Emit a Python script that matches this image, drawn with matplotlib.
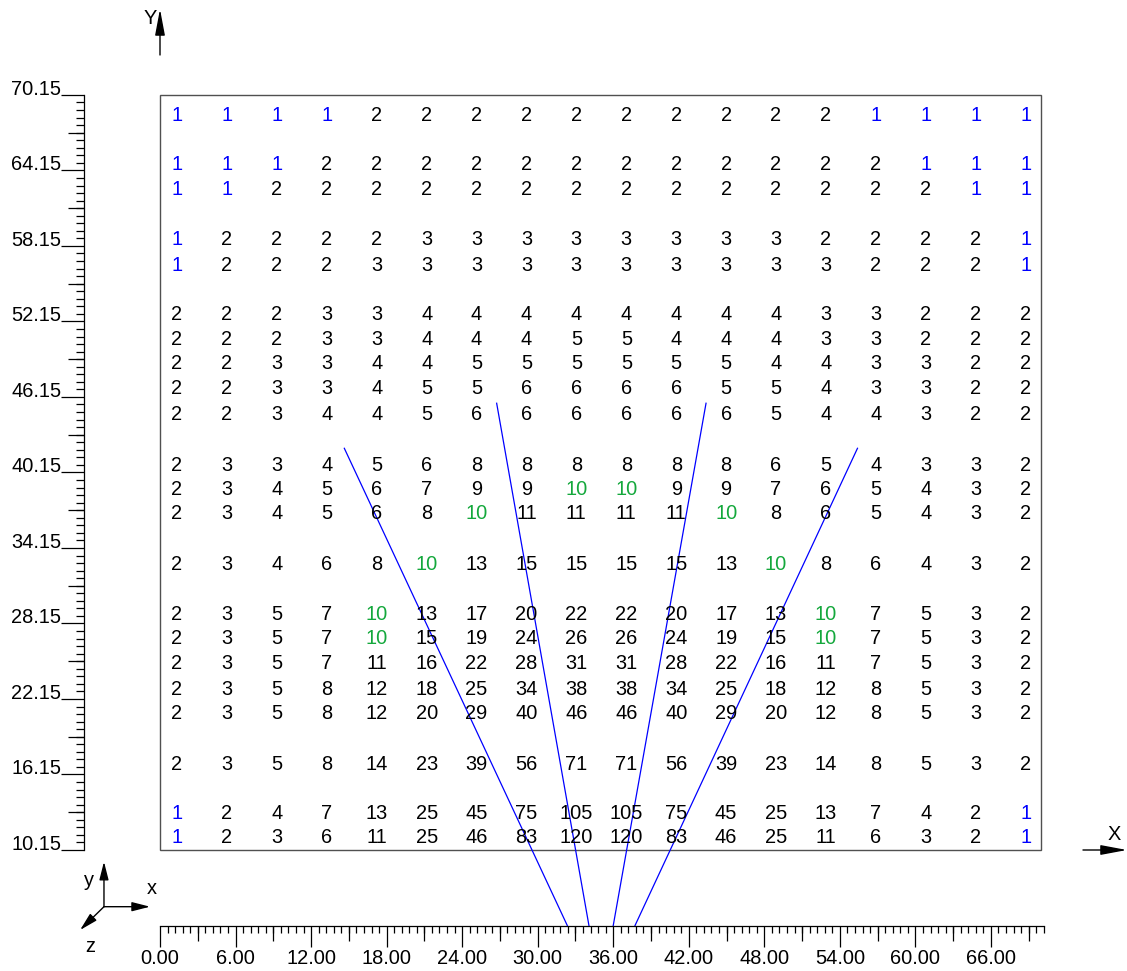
import matplotlib
matplotlib.use('Agg')
import matplotlib.pyplot as plt
import numpy as np
from matplotlib.patches import Rectangle

plt.rcParams['font.family'] = ['Liberation Sans', 'DejaVu Sans']

# grid point coordinates
col_x = [1.35, 5.32, 9.28, 13.25, 17.21, 21.18, 25.14, 29.11, 33.07,
         37.04, 41.0, 44.97, 48.93, 52.9, 56.86, 60.83, 64.79, 68.76]
row_y = [68.69, 64.74, 62.83, 58.78, 56.79, 52.82, 50.91, 48.93, 46.94, 44.95,
         40.90, 38.95, 37.01, 33.03, 29.06, 27.08, 25.09, 23.10, 21.12,
         17.14, 13.17, 11.34]

values = [
    [1, 1, 1, 1, 2, 2, 2, 2, 2, 2, 2, 2, 2, 2, 1, 1, 1, 1],
    [1, 1, 1, 2, 2, 2, 2, 2, 2, 2, 2, 2, 2, 2, 2, 1, 1, 1],
    [1, 1, 2, 2, 2, 2, 2, 2, 2, 2, 2, 2, 2, 2, 2, 2, 1, 1],
    [1, 2, 2, 2, 2, 3, 3, 3, 3, 3, 3, 3, 3, 2, 2, 2, 2, 1],
    [1, 2, 2, 2, 3, 3, 3, 3, 3, 3, 3, 3, 3, 3, 2, 2, 2, 1],
    [2, 2, 2, 3, 3, 4, 4, 4, 4, 4, 4, 4, 4, 3, 3, 2, 2, 2],
    [2, 2, 2, 3, 3, 4, 4, 4, 5, 5, 4, 4, 4, 3, 3, 2, 2, 2],
    [2, 2, 3, 3, 4, 4, 5, 5, 5, 5, 5, 5, 4, 4, 3, 3, 2, 2],
    [2, 2, 3, 3, 4, 5, 5, 6, 6, 6, 6, 5, 5, 4, 3, 3, 2, 2],
    [2, 2, 3, 4, 4, 5, 6, 6, 6, 6, 6, 6, 5, 4, 4, 3, 2, 2],
    [2, 3, 3, 4, 5, 6, 8, 8, 8, 8, 8, 8, 6, 5, 4, 3, 3, 2],
    [2, 3, 4, 5, 6, 7, 9, 9, 10, 10, 9, 9, 7, 6, 5, 4, 3, 2],
    [2, 3, 4, 5, 6, 8, 10, 11, 11, 11, 11, 10, 8, 6, 5, 4, 3, 2],
    [2, 3, 4, 6, 8, 10, 13, 15, 15, 15, 15, 13, 10, 8, 6, 4, 3, 2],
    [2, 3, 5, 7, 10, 13, 17, 20, 22, 22, 20, 17, 13, 10, 7, 5, 3, 2],
    [2, 3, 5, 7, 10, 15, 19, 24, 26, 26, 24, 19, 15, 10, 7, 5, 3, 2],
    [2, 3, 5, 7, 11, 16, 22, 28, 31, 31, 28, 22, 16, 11, 7, 5, 3, 2],
    [2, 3, 5, 8, 12, 18, 25, 34, 38, 38, 34, 25, 18, 12, 8, 5, 3, 2],
    [2, 3, 5, 8, 12, 20, 29, 40, 46, 46, 40, 29, 20, 12, 8, 5, 3, 2],
    [2, 3, 5, 8, 14, 23, 39, 56, 71, 71, 56, 39, 23, 14, 8, 5, 3, 2],
    [1, 2, 4, 7, 13, 25, 45, 75, 105, 105, 75, 45, 25, 13, 7, 4, 2, 1],
    [1, 2, 3, 6, 11, 25, 46, 83, 120, 120, 83, 46, 25, 11, 6, 3, 2, 1],
]

# rays from the base line
ray_base_x = [32.35, 34.07, 36.0, 37.73]
ray_base_y = 4.15
ray_top_x = [14.64, 26.74, 43.37, 55.4]
ray_top_y = [42.07, 45.65, 45.65, 42.07]

# region
x0, x1 = 0, 70
y0, y1 = 10.15, 70.15

FS = 14.4
SX = 12.59
SY = 12.585

fig = plt.figure(figsize=(11.27, 9.71), dpi=100)
ax = fig.add_axes([0, 0, 1, 1])
ax.set_xlim(-160 / SX, (1127 - 160) / SX)
ax.set_ylim(y0 - (971 - 850) / SY, y0 + 850 / SY)

ax.add_patch(Rectangle((x0, y0), x1 - x0, y1 - y0, fill=False,
                       edgecolor='#505050', lw=1))

for j, y in enumerate(row_y):
    for i, x in enumerate(col_x):
        v = values[j][i]
        c = 'black'
        if v == 1:
            c = '#0000ff'
        elif v == 10:
            c = '#14a83c'
        ax.text(x, y, str(v), color=c, fontsize=FS, ha='center', va='center_baseline')

for bx, tx, ty in zip(ray_base_x, ray_top_x, ray_top_y):
    ax.plot([bx, tx], [ray_base_y, ty], color='#0000ff', lw=0.9)

# rulers
for s in ['top', 'right']:
    ax.spines[s].set_visible(False)
ax.spines['left'].set_position(('data', -6))
ax.spines['left'].set_bounds(y0, y1)
ax.spines['bottom'].set_position(('data', y0 - 6))
ax.spines['bottom'].set_bounds(0, 70.2)
ax.spines['left'].set_linewidth(0.9)
ax.spines['bottom'].set_linewidth(0.9)

xt = np.arange(0, 67, 6)
ax.set_xticks(xt, labels=[f'{v:.2f}' for v in xt])
ax.set_xticks(np.arange(0, 70.21, 0.6), minor=True)
yt = np.arange(10.15, 70.2, 6)
ax.set_yticks(yt, labels=[f'{v:.2f}' for v in yt])
ax.set_yticks(np.arange(10.15, 70.2, 0.6), minor=True)
ax.tick_params(axis='x', which='major', length=15, width=0.9, pad=2, labelsize=FS)
ax.tick_params(axis='x', which='minor', length=5, width=0.9)
ax.tick_params(axis='y', which='major', length=16.3, width=0.9, pad=0.5, labelsize=FS)
ax.tick_params(axis='y', which='minor', length=5.8, width=0.9)
plt.setp(ax.get_yticklabels(), va='baseline')

# mid ticks
ax.vlines(np.arange(3, 70, 6), y0 - 6 - 15 / SY, y0 - 6, color='black', lw=0.9)
ax.hlines(np.arange(13.15, 70, 6), -6 - 16 / SX, -6, color='black', lw=0.9)

# axis arrows
big = dict(arrowstyle='-|>,head_length=1.6,head_width=0.3', mutation_scale=10,
           color='black', lw=1, shrinkA=0, shrinkB=0)
ax.annotate('', xy=(0, 76.97), xytext=(0, 73.32), arrowprops=big)
ax.text(-0.24, 76.34, 'Y', fontsize=FS, ha='right', va='center_baseline')
ax.annotate('', xy=(76.8, y0), xytext=(73.31, y0), arrowprops=big)
ax.text(75.77, 11.58, 'X', fontsize=FS, ha='center', va='center_baseline')

# orientation triad
small = dict(arrowstyle='-|>,head_length=1.1,head_width=0.28', mutation_scale=10,
             color='black', lw=1, shrinkA=0, shrinkB=0)
ox, oy = -4.45, 5.645
ax.annotate('', xy=(ox, 9.22), xytext=(ox, oy), arrowprops=small)
ax.annotate('', xy=(-0.79, oy), xytext=(ox, oy), arrowprops=small)
ax.annotate('', xy=(-6.35, 3.79), xytext=(ox, oy), arrowprops=small)
ax.text(-5.64, 7.85, 'y', fontsize=FS, ha='center', va='center_baseline')
ax.text(-0.64, 7.21, 'x', fontsize=FS, ha='center', va='center_baseline')
ax.text(-5.56, 2.68, 'z', fontsize=FS, ha='center', va='center_baseline')

fig.savefig('out.png', dpi=100)
